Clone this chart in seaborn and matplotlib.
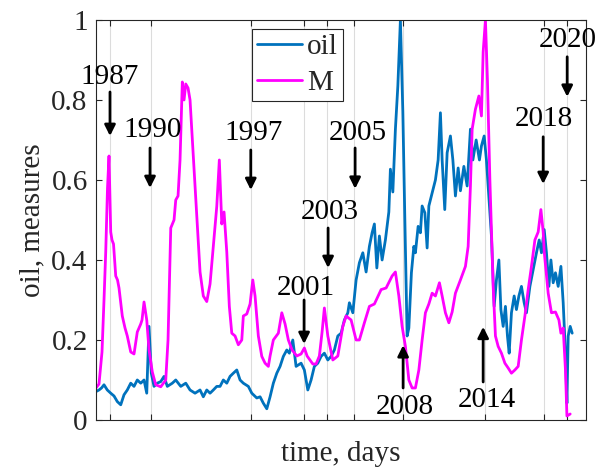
import numpy as np
import pandas as pd
import matplotlib
matplotlib.use("Agg")
import matplotlib.pyplot as plt
import seaborn as sns

# -----------------------------
# Data (x in days)
# -----------------------------
OIL_DAYS = [0, 54, 99, 144, 203, 265, 324, 383, 445, 504, 563, 625, 684, 743, 805, 864, 913, 954,
            995, 1044, 1103, 1165, 1224, 1283, 1373, 1435, 1525, 1615, 1692, 1782, 1872, 1931, 1993,
            2052, 2111, 2173, 2232, 2291, 2353, 2412, 2471, 2533, 2592, 2651, 2741, 2803, 2893, 2952,
            3011, 3073, 3132, 3191, 3253, 3312, 3371, 3433, 3479, 3541, 3600, 3690, 3749, 3811, 3870,
            3929, 3991, 4050, 4109, 4171, 4230, 4289, 4351, 4410, 4469, 4531, 4559, 4621, 4680, 4739,
            4801, 4860, 4919, 4968, 5009, 5053, 5099, 5148, 5207, 5269, 5297, 5341, 5387, 5431, 5477,
            5521, 5557, 5598, 5629, 5675, 5719, 5747, 5796, 5837, 5868, 5917, 5958, 5989, 6048, 6107,
            6156, 6197, 6228, 6275, 6318, 6377, 6421, 6467, 6516, 6557, 6619, 6678, 6737, 6781, 6840,
            6899, 6935, 6984, 7025, 7056, 7115, 7164, 7205, 7249, 7285, 7326, 7367, 7403, 7434, 7475,
            7524, 7565, 7609, 7655, 7704, 7745, 7807, 7866, 7925, 7974, 8015, 8064, 8105, 8149, 8185,
            8226, 8267, 8316, 8365, 8406, 8447, 8473, 8496, 8532, 8568]
OIL_VALS = [0.071, 0.075, 0.080, 0.088, 0.075, 0.067, 0.060, 0.046, 0.038, 0.063, 0.075, 0.092, 0.084,
            0.100, 0.092, 0.100, 0.067, 0.234, 0.117, 0.084, 0.092, 0.096, 0.109, 0.084, 0.092, 0.100,
            0.084, 0.092, 0.075, 0.067, 0.075, 0.058, 0.075, 0.067, 0.075, 0.084, 0.084, 0.100, 0.092,
            0.109, 0.117, 0.125, 0.100, 0.092, 0.084, 0.067, 0.055, 0.058, 0.042, 0.028, 0.058, 0.092,
            0.117, 0.134, 0.159, 0.175, 0.167, 0.200, 0.134, 0.142, 0.125, 0.075, 0.100, 0.134, 0.142,
            0.159, 0.167, 0.150, 0.159, 0.175, 0.210, 0.217, 0.250, 0.268, 0.293, 0.268, 0.350, 0.393,
            0.418, 0.370, 0.434, 0.468, 0.490, 0.380, 0.460, 0.400, 0.450, 0.520, 0.627, 0.570, 0.727,
            0.835, 1.000, 0.770, 0.500, 0.210, 0.230, 0.368, 0.434, 0.418, 0.484, 0.468, 0.535, 0.518,
            0.430, 0.535, 0.568, 0.600, 0.650, 0.768, 0.650, 0.526, 0.668, 0.710, 0.650, 0.560, 0.630,
            0.573, 0.634, 0.585, 0.727, 0.650, 0.700, 0.650, 0.685, 0.710, 0.650, 0.585, 0.460, 0.284,
            0.350, 0.400, 0.276, 0.234, 0.284, 0.210, 0.167, 0.268, 0.310, 0.276, 0.310, 0.334, 0.293,
            0.268, 0.334, 0.376, 0.418, 0.450, 0.418, 0.476, 0.418, 0.334, 0.400, 0.343, 0.368, 0.334,
            0.384, 0.293, 0.167, 0.042, 0.210, 0.234, 0.217]

M_DAYS = [0, 54, 108, 144, 175, 207, 234, 265, 288, 315, 355, 387, 414, 473, 522, 563, 625, 684, 743,
          805, 828, 864, 913, 954, 1013, 1075, 1165, 1255, 1296, 1345, 1404, 1435, 1476, 1512, 1553,
          1584, 1615, 1656, 1692, 1782, 1872, 1931, 1993, 2052, 2111, 2173, 2219, 2263, 2304, 2353,
          2399, 2443, 2502, 2561, 2623, 2651, 2713, 2772, 2821, 2862, 2921, 2983, 3042, 3101, 3132,
          3191, 3281, 3343, 3402, 3461, 3528, 3613, 3690, 3749, 3798, 3901, 3960, 4019, 4068, 4109,
          4171, 4261, 4351, 4441, 4500, 4590, 4680, 4739, 4829, 4919, 5009, 5130, 5220, 5328, 5387,
          5449, 5508, 5567, 5629, 5688, 5747, 5809, 5868, 5927, 5989, 6048, 6107, 6179, 6228, 6287,
          6349, 6408, 6467, 6557, 6647, 6696, 6737, 6768, 6827, 6889, 6935, 6966, 7007, 7043, 7087,
          7146, 7187, 7236, 7295, 7357, 7416, 7475, 7537, 7596, 7655, 7717, 7776, 7835, 7897, 7956,
          8005, 8046, 8065, 8136, 8195, 8267, 8329, 8365, 8406, 8447, 8473, 8532]
M_VALS = [0.080, 0.090, 0.170, 0.300, 0.420, 0.580, 0.660, 0.470, 0.450, 0.440, 0.360, 0.350, 0.330,
          0.260, 0.230, 0.210, 0.170, 0.165, 0.220, 0.240, 0.250, 0.295, 0.250, 0.175, 0.120, 0.088,
          0.083, 0.100, 0.200, 0.480, 0.500, 0.550, 0.560, 0.650, 0.845, 0.800, 0.840, 0.830, 0.800,
          0.585, 0.370, 0.310, 0.296, 0.340, 0.434, 0.534, 0.650, 0.490, 0.520, 0.420, 0.284, 0.217,
          0.210, 0.188, 0.200, 0.260, 0.265, 0.290, 0.350, 0.310, 0.210, 0.159, 0.142, 0.134, 0.160,
          0.200, 0.217, 0.268, 0.240, 0.200, 0.175, 0.160, 0.165, 0.180, 0.160, 0.140, 0.140, 0.160,
          0.220, 0.280, 0.210, 0.150, 0.160, 0.234, 0.260, 0.250, 0.200, 0.200, 0.243, 0.284, 0.290,
          0.326, 0.330, 0.360, 0.370, 0.310, 0.234, 0.184, 0.100, 0.080, 0.080, 0.125, 0.200, 0.268,
          0.290, 0.317, 0.310, 0.343, 0.310, 0.268, 0.243, 0.270, 0.317, 0.350, 0.384, 0.434, 0.585,
          0.727, 0.777, 0.810, 0.760, 0.920, 1.000, 0.850, 0.600, 0.334, 0.210, 0.184, 0.167, 0.142,
          0.130, 0.117, 0.125, 0.134, 0.200, 0.260, 0.326, 0.384, 0.450, 0.470, 0.526, 0.470, 0.420,
          0.317, 0.268, 0.270, 0.250, 0.217, 0.230, 0.125, 0.010, 0.015]

EVENT_YEARS = ["1987", "1990", "1997", "2001", "2003", "2005", "2008", "2014", "2018", "2020"]
EVENT_DAYS = [252, 990, 2790, 3744, 4158, 4644, 5526, 7002, 8064, 8478]

Y_TICKS = [0, 0.2, 0.4, 0.6, 0.8, 1]
Y_TICK_LABELS = ["0", "0.2", "0.4", "0.6", "0.8", "1"]

# -----------------------------
# Annotation layout: arrow x, text x, text y, arrow start y, arrow tip y
# -----------------------------
LABEL_LAYOUT = {
    "1987": (252, 252, 0.857, 0.82, 0.71),
    "1990": (972, 1026, 0.725, 0.68, 0.58),
    "1997": (2785, 2844, 0.717, 0.675, 0.575),
    "2001": (3744, 3780, 0.330, 0.30, 0.19),
    "2003": (4176, 4212, 0.520, 0.48, 0.38),
    "2005": (4662, 4716, 0.717, 0.68, 0.578),
    "2008": (5526, 5562, 0.033, 0.08, 0.187),
    "2014": (6966, 7038, 0.050, 0.095, 0.233),
    "2018": (8046, 8064, 0.752, 0.708, 0.59),
    "2020": (8478, 8496, 0.950, 0.908, 0.808),
}

COLORS = {"oil": "#0072BD", "M": "#FF00FF"}
FS = 21
SERIF = ["Liberation Serif", "DejaVu Serif"]

sns.set_theme(style="ticks")
plt.rcParams["font.family"] = SERIF

df = pd.concat(
    [
        pd.DataFrame({"day": OIL_DAYS, "value": OIL_VALS, "series": "oil"}),
        pd.DataFrame({"day": M_DAYS, "value": M_VALS, "series": "M"}),
    ],
    ignore_index=True,
)

fig = plt.figure(figsize=(6.0, 4.68), dpi=100)
ax = fig.add_axes([0.16, 0.1026, 0.817, 0.8547])

sns.lineplot(
    data=df, x="day", y="value", hue="series", hue_order=["oil", "M"],
    palette=COLORS, estimator=None, sort=False, linewidth=2.0, ax=ax, legend=False,
)

ax.set_xlim(0, 8820)
ax.set_ylim(0, 1)
ax.set_xticks(EVENT_DAYS)
ax.set_xticklabels([])
ax.set_yticks(Y_TICKS)
ax.set_yticklabels(Y_TICK_LABELS, fontsize=FS, family=SERIF)
ax.tick_params(direction="in", length=4, width=0.8, top=True, right=True, pad=6, colors="#262626")
ax.grid(axis="x", color="#dcdcdc", linewidth=0.8)
ax.grid(axis="y", visible=False)
for s in ax.spines.values():
    s.set_color("#262626")
    s.set_linewidth(0.8)

ax.set_xlabel("time, days", fontsize=FS, labelpad=9, family=SERIF)
ax.set_ylabel("oil, measures", fontsize=FS, labelpad=4, family=SERIF)

for year in EVENT_YEARS:
    arr_x, tx, ty, y0, y1 = LABEL_LAYOUT[year]
    ax.text(tx, ty, year, fontsize=FS, ha="center", va="center", color="black",
            family=SERIF, zorder=5)
    ax.annotate(
        "", xy=(arr_x, y1), xytext=(arr_x, y0),
        arrowprops=dict(arrowstyle="-|>", color="black", lw=2.0, mutation_scale=16,
                        shrinkA=0, shrinkB=0),
        annotation_clip=False, zorder=5,
    )

lines = ax.get_lines()[:2]
leg = ax.legend(
    lines, ["oil", "M"],
    loc="upper left", bbox_to_anchor=(0.318, 0.978), borderaxespad=0,
    prop={"family": SERIF, "size": FS},
    frameon=True, fancybox=False, framealpha=1, edgecolor="#262626", handlelength=1.55,
    handletextpad=0.15, labelspacing=0.32, borderpad=0.18,
)
leg.get_frame().set_linewidth(0.8)

fig.savefig("out.png", dpi=100)
